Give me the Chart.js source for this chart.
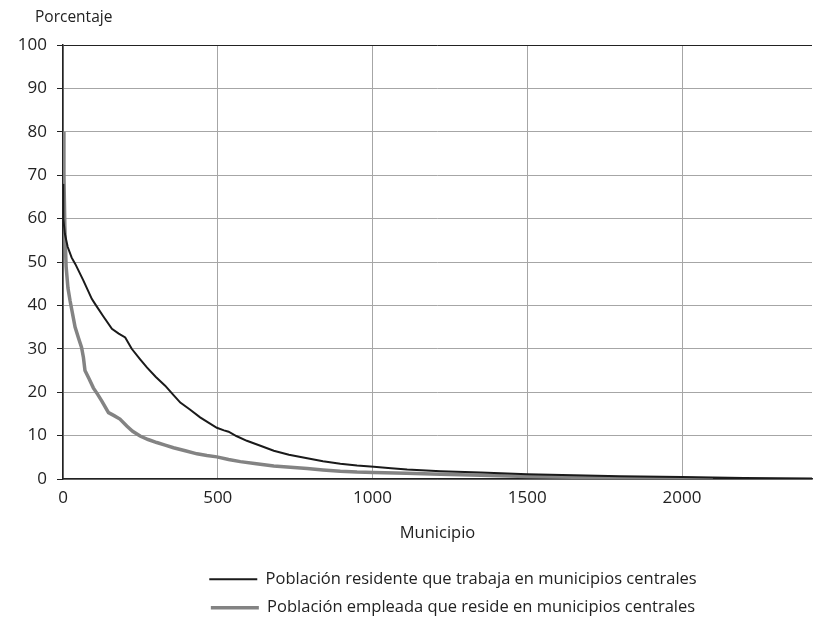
<!DOCTYPE html>
<html>
<head>
<meta charset="utf-8">
<script src="https://cdn.jsdelivr.net/npm/chart.js@4.4.1/dist/chart.umd.min.js"></script>
<style>
  html, body { margin: 0; padding: 0; background: #fff; }
  #wrap { width: 814px; height: 618px; position: relative; }
</style>
</head>
<body>
<div id="wrap"><canvas id="grafica"></canvas></div>
<script>
// Datos (municipio ordenado vs porcentaje)
const etiquetas = [
  'Población residente que trabaja en municipios centrales',
  'Población empleada que reside en municipios centrales'
];

const residenteX = [0, 1, 6, 15, 28, 40, 66, 93, 104, 130, 158, 180, 201, 222, 250, 271, 300, 330, 355, 379,
  410, 443, 470, 497, 520, 535, 560, 594, 640, 681, 730, 789, 840, 896, 950, 1004, 1060, 1112, 1220, 1350,
  1500, 1650, 1800, 2000, 2200, 2420];
const residenteY = [68, 60, 56.5, 53.5, 51, 49.5, 45.7, 41.5, 40.3, 37.5, 34.6, 33.5, 32.6, 30, 27.5, 25.7, 23.5, 21.5, 19.5, 17.6,
  16, 14.2, 13, 11.8, 11.2, 10.9, 9.9, 8.8, 7.6, 6.5, 5.6, 4.8, 4.1, 3.5, 3.1, 2.8, 2.5, 2.2, 1.8, 1.5,
  1.1, 0.85, 0.65, 0.45, 0.25, 0.1];

const empleadaX = [0, 3, 6, 10, 16, 23, 39, 50, 60, 66, 71, 85, 98, 112, 125, 147, 165, 184, 206, 225,
  249, 275, 303, 330, 357, 395, 433, 465, 497, 535, 573, 625, 681, 735, 789, 840, 896, 950, 1004, 1110,
  1220, 1350, 1500, 1650, 1800, 2000, 2100];
const empleadaY = [80, 70, 58, 49, 44, 41, 35, 32.5, 30.3, 28, 25, 23, 21, 19.5, 18, 15.3, 14.6, 13.8, 12.2, 11,
  9.9, 9.1, 8.4, 7.8, 7.2, 6.5, 5.8, 5.4, 5.1, 4.5, 4, 3.5, 3, 2.7, 2.4, 2.1, 1.8, 1.6, 1.5, 1.3,
  1.1, 0.85, 0.6, 0.4, 0.25, 0.1, 0];

const xTicks = [0, 500, 1000, 1500, 2000];
const yTicks = [0, 10, 20, 30, 40, 50, 60, 70, 80, 90, 100];

const fuente = '"Open Sans", "Noto Sans", sans-serif';
const colorTexto = '#222';

// Texto "Porcentaje" arriba a la izquierda
const tituloEje = {
  id: 'tituloEje',
  afterDraw(chart) {
    const ctx = chart.ctx;
    ctx.save();
    ctx.font = '15.5px ' + fuente;
    ctx.fillStyle = colorTexto;
    ctx.textBaseline = 'middle';
    ctx.fillText('Porcentaje', 35, 18);
    ctx.restore();
  }
};

// La leyenda del original está algo desplazada a la derecha
const moverLeyenda = {
  id: 'moverLeyenda',
  afterLayout(chart) {
    if (chart.legend) {
      chart.legend.left += 47;
      chart.legend.right += 47;
    }
  }
};

new Chart(document.getElementById('grafica'), {
  type: 'scatter',
  data: {
    datasets: [
      {
        label: etiquetas[0],
        data: residenteX.map((x, i) => ({ x: x, y: residenteY[i] })),
        showLine: true,
        borderColor: '#1a1a1a',
        backgroundColor: '#1a1a1a',
        borderWidth: 2,
        pointRadius: 0,
        tension: 0,
        order: 1
      },
      {
        label: etiquetas[1],
        data: empleadaX.map((x, i) => ({ x: x, y: empleadaY[i] })),
        showLine: true,
        borderColor: '#838383',
        backgroundColor: '#838383',
        borderWidth: 3.5,
        pointRadius: 0,
        tension: 0,
        order: 2
      }
    ]
  },
  options: {
    responsive: true,
    maintainAspectRatio: false,
    animation: false,
    layout: { padding: { top: 45, right: 2, bottom: -8, left: 0 } },
    plugins: {
      tooltip: { enabled: false },
      legend: {
        position: 'bottom',
        labels: {
          usePointStyle: true,
          pointStyle: 'line',
          pointStyleWidth: 48,
          padding: 12,
          color: colorTexto,
          font: { family: fuente, size: 16.5 }
        }
      }
    },
    scales: {
      x: {
        type: 'linear',
        min: 0,
        max: 2420,
        afterFit: s => { s.height = 80; },
        afterBuildTicks: s => { s.ticks = xTicks.map(v => ({ value: v })); },
        ticks: {
          padding: 9,
          color: colorTexto,
          font: { family: fuente, size: 17 },
          callback: v => String(v)
        },
        grid: { color: '#a6a6a6', lineWidth: 1, drawTicks: false },
        border: { color: '#222', width: 1.5 },
        title: {
          display: true,
          text: 'Municipio',
          color: colorTexto,
          font: { family: fuente, size: 16.5 },
          padding: { top: 0, bottom: 16 }
        }
      },
      y: {
        min: 0,
        max: 100,
        afterFit: s => { s.width = 63; },
        afterBuildTicks: s => { s.ticks = yTicks.map(v => ({ value: v })); },
        ticks: { padding: 10, color: colorTexto, font: { family: fuente, size: 17 } },
        grid: {
          color: c => (c.tick && c.tick.value === 100 ? '#222' : '#a6a6a6'),
          lineWidth: 1,
          tickLength: 6,
          tickColor: '#222'
        },
        border: { color: '#222', width: 1.5 }
      }
    }
  },
  plugins: [tituloEje, moverLeyenda]
});
</script>
</body>
</html>
